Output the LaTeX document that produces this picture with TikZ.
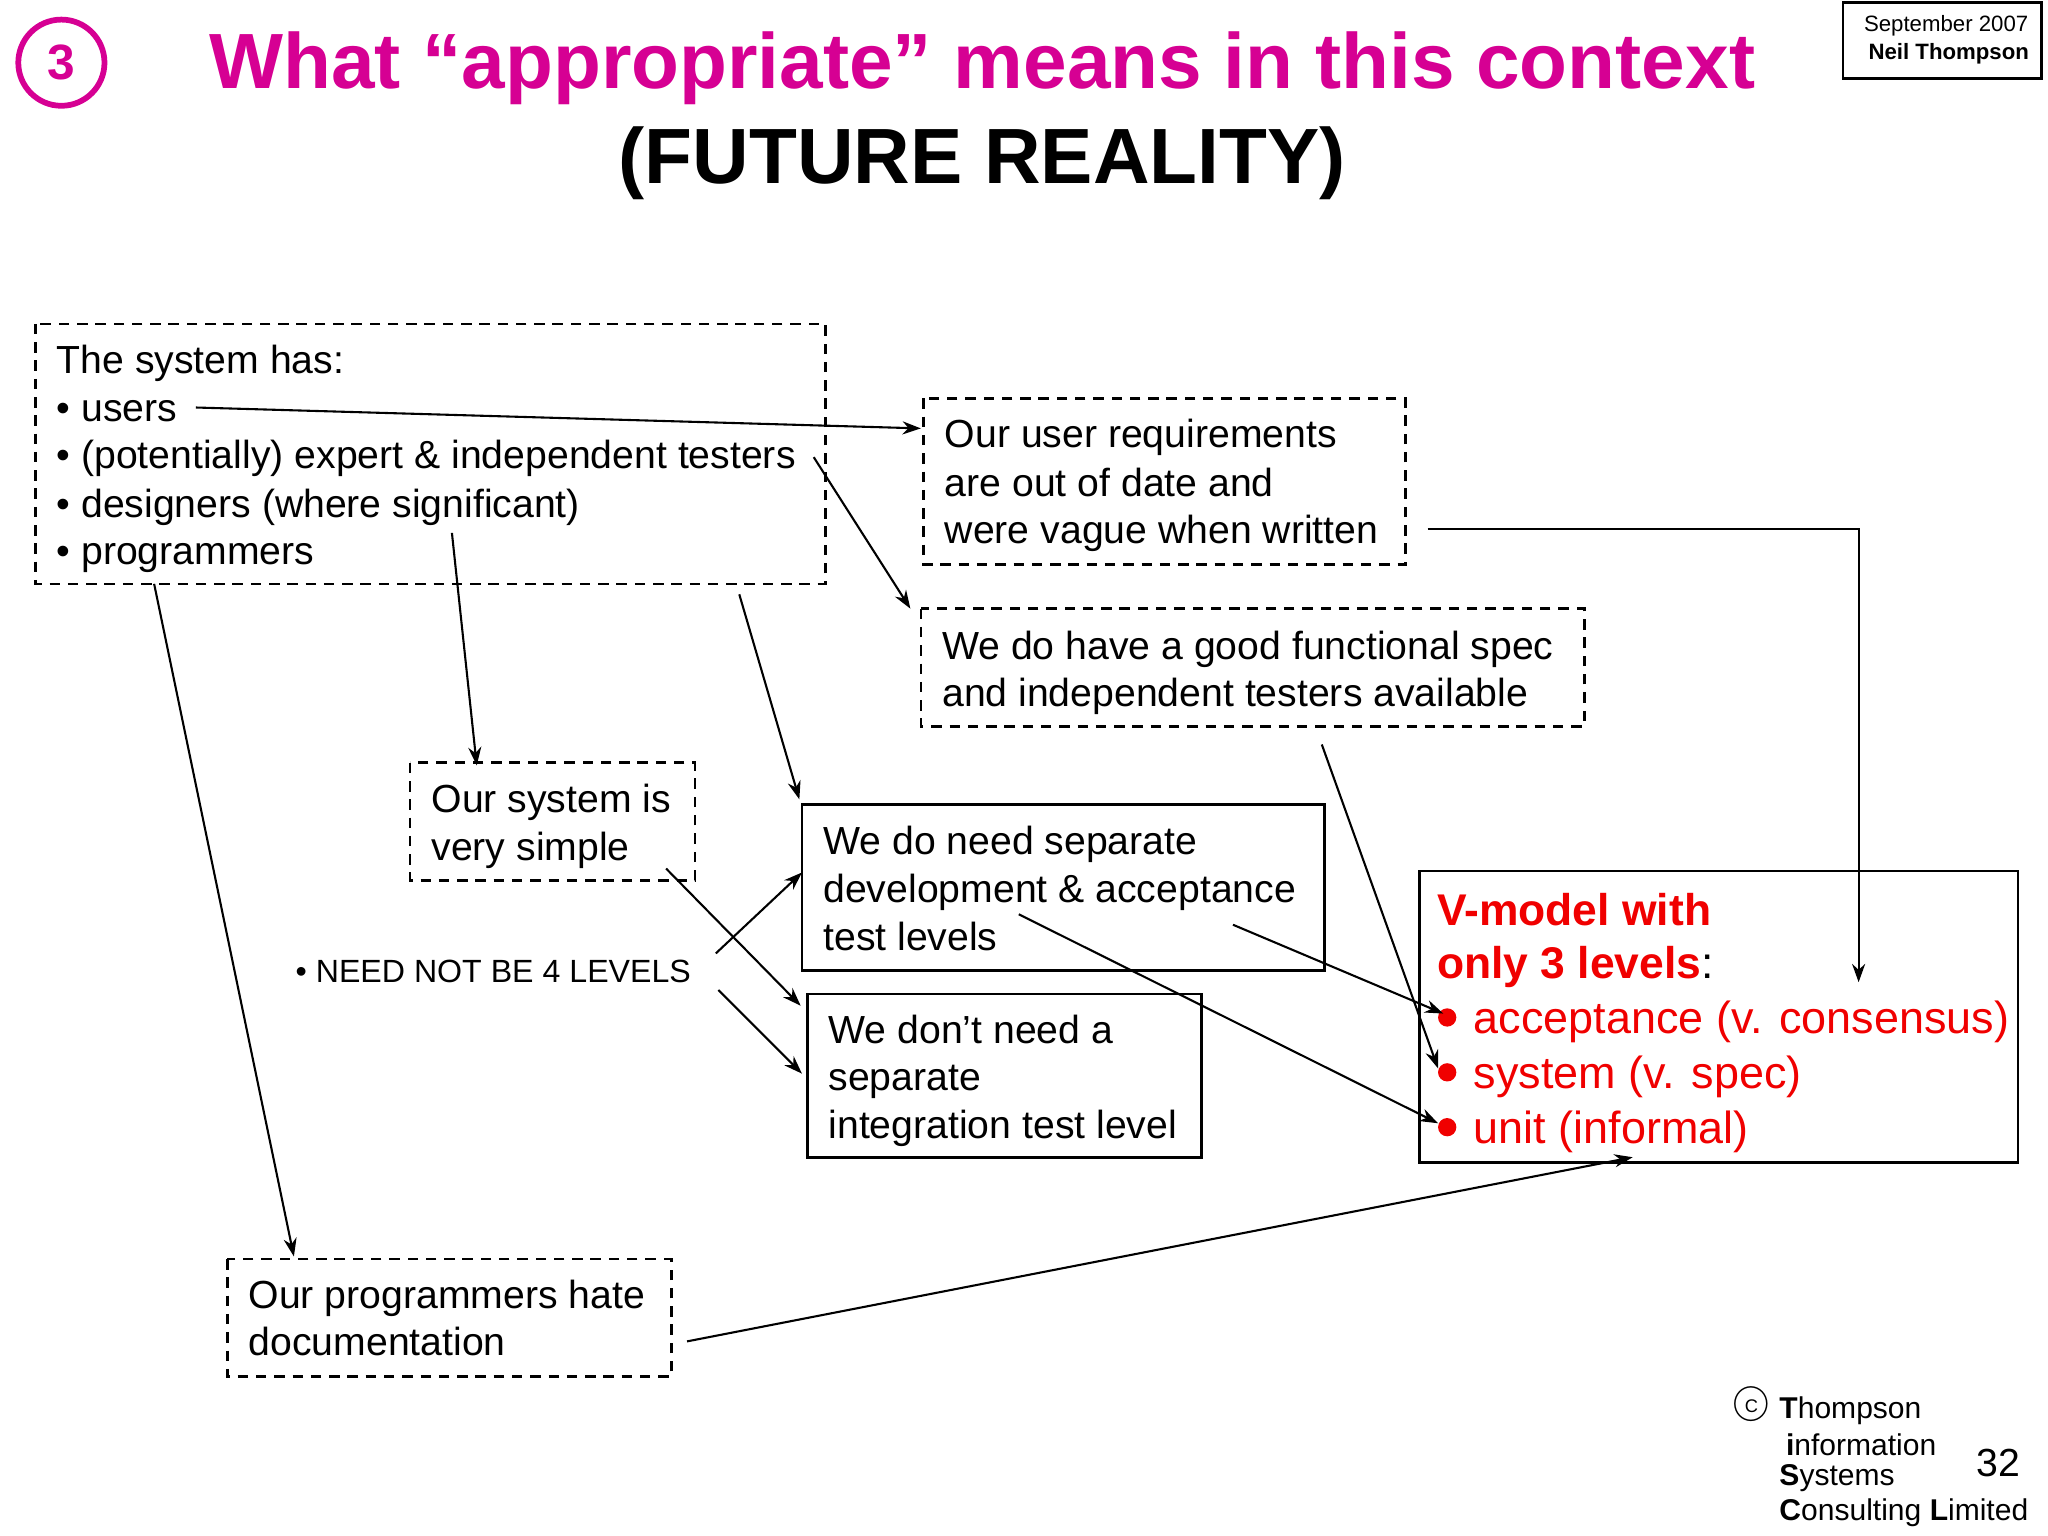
\documentclass[tikz,border=0pt]{standalone}
\usepackage{fontspec}
\setmainfont{Liberation Sans}
\usetikzlibrary{arrows.meta}
\definecolor{mag}{RGB}{214,0,147}
\definecolor{vred}{RGB}{240,0,0}
\tikzset{
 dbox/.style={draw,dashed,line width=1pt,dash pattern=on 4pt off 3pt},
 sbox/.style={draw,line width=1pt},
 txt/.style={anchor=base west,inner sep=0pt,yshift=-5.5pt,font=\fontsize{15}{16}\selectfont},
 rtxt/.style={txt,text=vred,yshift=-0.7pt,font=\fontsize{17.2}{18}\selectfont},
 arr/.style={line width=0.8pt,-{Stealth[length=7pt,width=5pt]}},
 ftx/.style={anchor=west,inner sep=0pt,font=\fontsize{11.5}{12}\selectfont},
}
\begin{document}
\begin{tikzpicture}[x=0.5pt,y=-0.5pt]
\useasboundingbox (0,0) rectangle (1568,1176);
% header
\draw[mag,line width=2.2pt] (47,48) circle (33);
\node[text=mag,font=\fontsize{19}{20}\selectfont\bfseries] (num) at (47,48) {3};
\node[text=mag,font=\fontsize{30}{34}\selectfont\bfseries] (t1) at (752,52) {What “appropriate” means in this context};
\node[font=\fontsize{30}{34}\selectfont\bfseries] (t2) at (752,125) {(FUTURE REALITY)};
\draw[sbox] (1411,2) rectangle (1563,60);
\node[font=\fontsize{8.5}{10}\selectfont] (d1) at (1490,20) {September 2007};
\node[font=\fontsize{8.5}{10}\selectfont\bfseries] (d2) at (1492,41) {Neil Thompson};
% boxes
\draw[dbox] (27,248) rectangle (632,447);
\node[txt] (a1) at (43,275) {The system has:};
\node[txt] (a2) at (43,312) {• users};
\node[txt] (a3) at (43,348) {• (potentially) expert \& independent testers};
\node[txt] (a4) at (43,385) {• designers (where significant)};
\node[txt] (a5) at (43,421) {• programmers};
\draw[dbox] (707,305) rectangle (1076,432);
\node[txt] (b1) at (723,332) {Our user requirements};
\node[txt] (b2) at (723,369) {are out of date and};
\node[txt] (b3) at (723,405) {were vague when written};
\draw[dbox] (705,466) rectangle (1213,556);
\node[txt] (c1) at (721,494) {We do have a good functional spec};
\node[txt] (c2) at (721,530) {and independent testers available};
\draw[dbox] (314,584) rectangle (532,674);
\node[txt] (dd1) at (330,611) {Our system is};
\node[txt] (dd2) at (330,648) {very simple};
\draw[sbox] (614,616) rectangle (1014,743);
\node[txt] (e1) at (630,643) {We do need separate};
\node[txt] (e2) at (630,680) {development \& acceptance};
\node[txt] (e3) at (630,717) {test levels};
\draw[sbox] (618,761) rectangle (920,886);
\node[txt] (f1) at (634,788) {We don’t need a};
\node[txt] (f2) at (634,824) {separate};
\node[txt] (f3) at (634,861) {integration test level};
\draw[sbox] (1087,667) rectangle (1545,890);
\node[rtxt,font=\fontsize{17}{18}\selectfont\bfseries] (g1) at (1100,696) {V-model with};
\node[rtxt,font=\fontsize{17}{18}\selectfont\bfseries] (g2) at (1100,737) {only 3 levels\textcolor{black}{\mdseries:}};
\foreach \y/\t [count=\i] in {779/acceptance (v. consensus),821/system (v. spec),863/unit (informal)}{
  \fill[vred] (1108,\y) circle (7);
  \node[rtxt] (gl\i) at (1128,\y) {\t};
}
\draw[dbox] (174,964) rectangle (514,1054);
\node[txt] (h1) at (190,991) {Our programmers hate};
\node[txt] (h2) at (190,1027) {documentation};
\node[txt,yshift=1pt,font=\fontsize{12.3}{14}\selectfont] (need) at (226,743) {• NEED NOT BE 4 LEVELS};
% footer
\node[font=\fontsize{15}{16}\selectfont] (cp) at (1341,1080) {\textcircled{\scriptsize C}};
\node[ftx] (ft1) at (1362,1080) {\textbf{T}hompson};
\node[ftx] (ft2) at (1367,1106) {\textbf{i}nformation};
\node[ftx] (ft3) at (1362,1132) {\textbf{S}ystems};
\node[ftx] (ft4) at (1362,1158) {\textbf{C}onsulting \textbf{L}imited};
\node[font=\fontsize{15}{16}\selectfont] (pg) at (1530,1120) {32};
% connector endpoints
\coordinate (p1) at (150,312); \coordinate (q1) at (705,328);
\coordinate (p2) at (623,350); \coordinate (q2) at (697,466);
\coordinate (p3) at (346,408); \coordinate (q3) at (365,586);
\coordinate (p4) at (566,455); \coordinate (q4) at (612,612);
\coordinate (p5) at (118,447); \coordinate (q5) at (225,962);
\coordinate (p6) at (1093,405); \coordinate (m6) at (1423,405); \coordinate (q6) at (1423,752);
\coordinate (p7) at (1012,570); \coordinate (q7) at (1101,818);
\coordinate (p8) at (944,708); \coordinate (q8) at (1105,776);
\coordinate (p9) at (780,700); \coordinate (q9) at (1101,860);
\coordinate (p10) at (510,665); \coordinate (q10) at (613,770);
\coordinate (p11) at (548,730); \coordinate (q11) at (614,668);
\coordinate (p12) at (550,758); \coordinate (q12) at (614,822);
\coordinate (p13) at (526,1027); \coordinate (q13) at (1250,886);
\draw[arr] (p1) -- (q1);
\draw[arr] (p2) -- (q2);
\draw[arr] (p3) -- (q3);
\draw[arr] (p4) -- (q4);
\draw[arr] (p5) -- (q5);
\draw[arr] (p6) -- (m6) -- (q6);
\draw[arr] (p7) -- (q7);
\draw[arr] (p8) -- (q8);
\draw[arr] (p9) -- (q9);
\draw[arr] (p10) -- (q10);
\draw[arr] (p11) -- (q11);
\draw[arr] (p12) -- (q12);
\draw[arr] (p13) -- (q13);
\end{tikzpicture}
\end{document}
